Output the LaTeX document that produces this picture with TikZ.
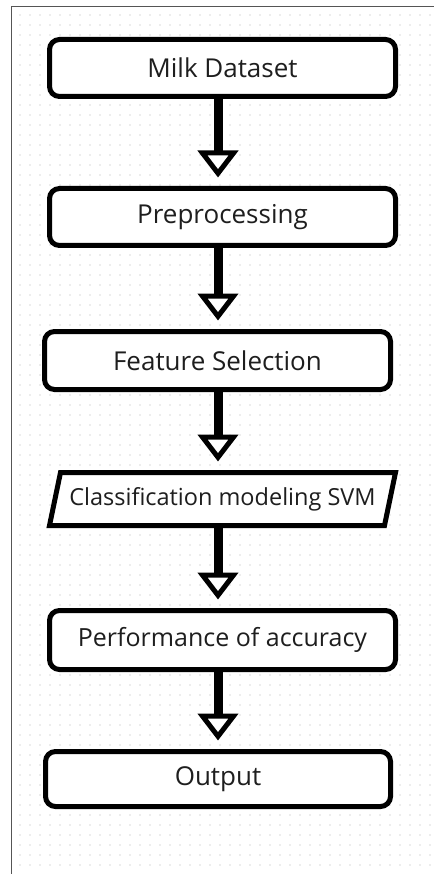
\documentclass[tikz,border=0pt]{standalone}
\usepackage{fontspec}
\setmainfont{Open Sans}
\usetikzlibrary{arrows.meta,calc}
\definecolor{dotc}{HTML}{DCDCDC}
\definecolor{framec}{HTML}{555555}
\definecolor{txt}{HTML}{1E1E1E}
\tikzset{
  stepbox/.style={draw=black, fill=white, line width=5pt, rounded corners=10pt,
    minimum width=346pt, minimum height=57pt, inner sep=0pt, outer sep=0pt,
    text=txt, font=\fontsize{26}{30}\selectfont},
  parabox/.style={draw=none, minimum width=335pt, minimum height=53pt, inner sep=0pt,
    outer sep=0pt, text=txt, font=\fontsize{23.5}{27}\selectfont},
  flow/.style={line width=9pt, shorten >=11pt,
    -{Triangle[length=27pt, width=40pt, line width=5pt, fill=white]}}
}
\begin{document}
\begin{tikzpicture}[x=1pt,y=-1pt]
\useasboundingbox (0,0) rectangle (434,874);
\fill[white] (0,0) rectangle (434,874);
\foreach \i in {0,...,41} {
  \foreach \j in {0,...,85} {
    \fill[dotc] (20+10*\i,15+10*\j) circle (0.9);
  }
}
\draw[framec, line width=1pt] (11.5,874) -- (11.5,7) -- (434,7);
\coordinate (axis) at (218,0);
\node[stepbox] (n1) at (222.5,68) {Milk Dataset};
\node[stepbox] (n2) at (222.5,217) {Preprocessing};
\node[stepbox, minimum width=346pt, minimum height=58pt] (n3) at (217.5,360.5) {Feature Selection};
\node[parabox] (n4) at (222.5,499) {Classification modeling SVM};
\draw[line width=5pt, fill=white, line join=miter]
  ([xshift=-5.5pt]n4.south west) -- ([xshift=5.5pt]n4.north west) --
  ([xshift=5.5pt]n4.north east) -- ([xshift=-5.5pt]n4.south east) -- cycle;
\node[parabox] at (n4) {Classification modeling SVM};
\node[stepbox, minimum height=59pt, font=\fontsize{25}{29}\selectfont] (n5) at (222.5,640) {Performance of accuracy};
\node[stepbox, minimum width=345pt, minimum height=55pt] (n6) at (218,779) {Output};
\draw[flow] (n1.south -| axis) -- (n2.north -| axis);
\draw[flow] (n2.south -| axis) -- (n3.north -| axis);
\draw[flow] (n3.south -| axis) -- (n4.north -| axis);
\draw[flow] (n4.south -| axis) -- (n5.north -| axis);
\draw[flow] (n5.south -| axis) -- (n6.north -| axis);
\end{tikzpicture}
\end{document}
